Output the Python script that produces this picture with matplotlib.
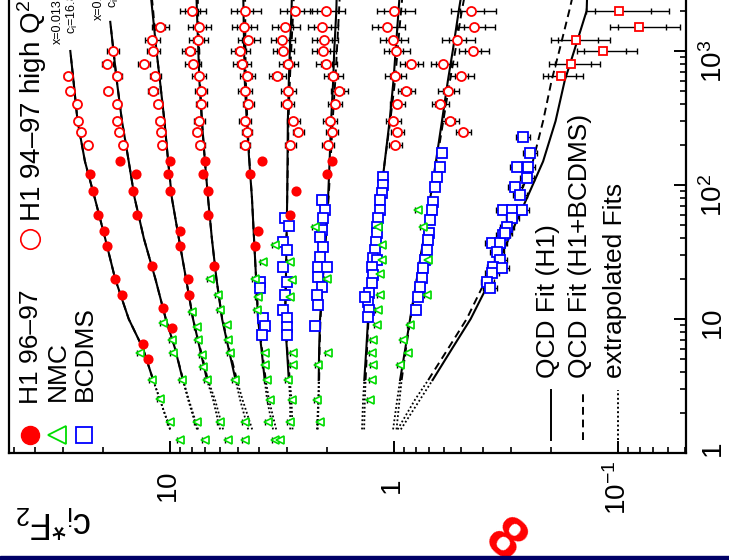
import numpy as np
import matplotlib
matplotlib.use('Agg')
import matplotlib.pyplot as plt
from matplotlib.patches import Rectangle
from matplotlib.ticker import LogLocator, NullFormatter

plt.rcParams['font.family'] = ['Liberation Sans', 'DejaVu Sans']
plt.rcParams['mathtext.fontset'] = 'custom'
plt.rcParams['mathtext.rm'] = 'Liberation Sans'
plt.rcParams['mathtext.it'] = 'Liberation Sans:italic'

# ---------------- data (F2*c_i versus Q2, one list per x bin) ----------------
x_bins = ['0.013', '0.020', '0.032', '0.050', '0.080', '0.130', '0.180', '0.250', '0.400', '0.650']

grid = [1.5, 2.5, 3.5, 6, 10, 20, 40, 80, 150, 300, 600, 1000, 2000, 3000]
fit_q2 = [grid[:12], grid[:12] + [1650]] + [grid] * 8

# QCD fit (H1)
fit_h1 = [
    [10.0, 11.1, 11.9, 13.2, 15.3, 17.6, 19.5, 21.7, 24.0, 25.9, 27.0, 27.9],
    [7.58, 8.31, 8.77, 9.50, 10.45, 11.64, 13.1, 14.4, 15.3, 16.4, 17.3, 17.9, 18.5],
    [5.98, 6.43, 6.84, 7.36, 7.90, 8.49, 9.14, 9.82, 10.2, 10.6, 11.1, 11.5, 12.0, 12.3],
    [4.48, 4.87, 5.10, 5.48, 5.86, 6.21, 6.51, 6.77, 6.99, 7.22, 7.40, 7.48, 7.59, 7.65],
    [3.47, 3.69, 3.78, 3.91, 4.05, 4.13, 4.22, 4.31, 4.43, 4.55, 4.64, 4.67, 4.70, 4.72],
    [2.91, 2.91, 2.95, 3.01, 3.07, 3.04, 3.02, 3.00, 2.99, 2.98, 2.95, 2.92, 2.87, 2.85],
    [2.21, 2.18, 2.17, 2.16, 2.14, 2.08, 2.02, 1.97, 1.94, 1.91, 1.87, 1.85, 1.81, 1.80],
    [1.39, 1.375, 1.358, 1.33, 1.306, 1.25, 1.20, 1.15, 1.10, 1.047, 1.006, 0.984, 0.955, 0.938],
    [1.01, 0.968, 0.940, 0.891, 0.848, 0.791, 0.737, 0.689, 0.650, 0.611, 0.575, 0.547, 0.514, 0.494],
    [0.933, 0.766, 0.673, 0.551, 0.455, 0.369, 0.307, 0.255, 0.216, 0.190, 0.173, 0.157, 0.138, 0.137],
]
# QCD fit (H1+BCDMS)
fit_hb = [
    [10.0, 11.1, 11.9, 13.2, 15.3, 17.6, 19.5, 21.7, 24.0, 25.9, 27.0, 27.9],
    [7.50, 8.25, 8.74, 9.50, 10.45, 11.64, 13.1, 14.4, 15.3, 16.4, 17.3, 17.9, 18.5],
    [5.80, 6.30, 6.78, 7.33, 7.90, 8.49, 9.14, 9.82, 10.2, 10.6, 11.1, 11.5, 11.9, 12.2],
    [4.30, 4.75, 5.03, 5.45, 5.85, 6.21, 6.51, 6.77, 6.99, 7.20, 7.36, 7.42, 7.50, 7.55],
    [3.36, 3.62, 3.74, 3.89, 4.04, 4.13, 4.22, 4.31, 4.42, 4.52, 4.59, 4.61, 4.62, 4.63],
    [2.84, 2.87, 2.92, 3.00, 3.06, 3.04, 3.02, 3.00, 2.98, 2.96, 2.92, 2.88, 2.82, 2.79],
    [2.19, 2.17, 2.16, 2.15, 2.13, 2.08, 2.02, 1.96, 1.92, 1.88, 1.83, 1.80, 1.76, 1.74],
    [1.36, 1.35, 1.34, 1.32, 1.30, 1.25, 1.20, 1.15, 1.10, 1.04, 0.99, 0.965, 0.93, 0.91],
    [0.975, 0.945, 0.925, 0.885, 0.845, 0.790, 0.735, 0.685, 0.645, 0.603, 0.563, 0.533, 0.498, 0.476],
    [0.964, 0.806, 0.704, 0.574, 0.474, 0.387, 0.326, 0.277, 0.240, 0.216, 0.198, 0.183, 0.165, 0.156],
]

# H1 96-97
h1lo_q2 = [
    [5, 6.5, 15, 20, 35, 45, 60, 90, 120],
    [8.5, 12, 25, 60, 90, 120, 150],
    [15, 20, 35, 45, 90, 120, 150],
    [25, 60, 90, 120, 150],
    [35, 45, 120, 150],
    [60, 90],
    [120, 150],
]
h1lo_f = [
    [12.54, 13.2, 16.38, 17.6, 19.1, 19.7, 20.96, 22.07, 22.76],
    [9.80, 10.75, 12.03, 14.04, 14.63, 14.18, 16.72],
    [8.23, 8.31, 9.02, 9.02, 10.0, 10.21, 10.0],
    [6.36, 6.77, 6.77, 7.12, 6.98],
    [4.17, 4.05, 4.39, 3.88],
    [2.91, 2.74],
    [1.99, 1.89],
]

# H1 94-97 high Q2
hq_bins = [200, 250, 300, 400, 500, 650, 800, 1000, 1200, 1500, 2000]
hq_relerr = [0.05, 0.05, 0.06, 0.06, 0.07, 0.08, 0.09, 0.10, 0.11, 0.13, 0.15]
hq_scale = [0.5, 0.6, 0.7, 0.9, 1.0, 1.1, 1.2, 1.3, 1.5]
hq_f = [
    [23.2, 24.97, 25.7, 26.0, 27.95, 28.5],
    [16.2, 16.9, 17.25, 17.25, 18.9, 17.25, 19.1, 18.0],
    [10.86, 10.97, 11.08, 11.31, 11.91, 11.67, 13.06, 11.91, 12.03, 11.08],
    [7.35, 7.58, 7.42, 7.27, 7.27, 7.42, 7.90, 8.14, 7.50, 7.42, 7.98],
    [4.63, 4.55, 4.63, 4.48, 4.63, 4.52, 4.79, 4.87, 4.48, 4.70, 4.63],
    [2.91, 2.68, 2.82, 3.00, 2.97, 3.33, 2.97, 3.13, 3.16, 3.06, 2.77],
    [1.97, 1.89, 1.93, 1.84, 1.76, 1.87, 2.01, 2.07, 2.05, 2.10, 2.01],
    [0.99, 0.97, 1.01, 0.97, 0.884, 0.99, 0.839, 0.98, 1.01, 1.075, 1.00],
    [None, 0.492, 0.562, 0.623, 0.574, 0.502, 0.604, 0.444, 0.523, 0.439, 0.453],
]
hq10_q2 = [650, 800, 1000, 1200, 1500, 2000]
hq10_f = [0.180, 0.162, 0.117, 0.154, 0.0806, 0.099]
hq10_err = [0.037, 0.042, 0.035, 0.045, 0.028, 0.040]

# NMC
nmc_q2 = [
    [1.25, 1.7, 2.55, 3.5, 5.6],
    [1.25, 1.7, 3.5, 5.6, 7.0, 9.3],
    [1.25, 1.7, 3.5, 4.4, 5.4, 7.0, 8.7, 11.3],
    [1.25, 1.7, 3.5, 5.6, 7.0, 9.0, 11.7, 15, 20],
    [1.25, 1.7, 2.5, 3.5, 4.5, 5.6, 11.7, 14.6, 20, 26.5],
    [1.25, 1.7, 2.5, 3.5, 4.5, 5.6, 14.6, 19.5, 26.5, 35.7],
    [1.7, 2.5, 4.5, 5.6, 20, 48.7],
    [2.5, 3.5, 4.5, 5.6, 7.0, 9.0, 11.7, 15, 21.8, 27.6, 35.7, 48.7],
    [4.5, 5.6, 7.0, 9.0, 15, 27.6, 48.7, 65],
]
nmc_f = [
    [9.02, 10.0, 11.08, 12.03, 13.61],
    [6.98, 7.58, 8.84, 9.70, 9.80, 10.75],
    [5.51, 5.98, 6.84, 7.12, 7.20, 7.50, 7.58, 7.98],
    [4.63, 4.63, 5.13, 5.40, 5.51, 5.57, 5.98, 6.10, 6.63],
    [3.40, 3.65, 3.58, 3.69, 3.77, 3.77, 4.09, 4.05, 4.17, 3.84],
    [3.23, 2.91, 2.85, 2.97, 2.82, 2.82, 2.91, 2.85, 2.91, 3.40],
    [2.14, 2.21, 2.18, 1.97, 1.99, 2.25],
    [1.28, 1.254, 1.24, 1.254, 1.24, 1.19, 1.18, 1.155, 1.155, 1.13, 1.13, 1.18],
    [0.940, 0.866, 0.912, 0.849, 0.713, 0.706, 0.742, 0.782],
]

# BCDMS (bins 0.080 .. 0.650)
bcd_q2 = [
    [18.9, 17.0, 10.2, 8.87, 7.60],
    [56.7, 49.4, 37.6, 32.7, 24.4, 18.9, 15.1, 11.7, 10.2, 8.72, 7.60],
    [77.3, 65, 56.7, 46.2, 40.8, 34.3, 29.0, 24.4, 24.4, 20.6, 17.3, 15.1, 12.7, 8.87],
    [115, 100, 87.1, 77.3, 65, 56.7, 48.7, 43.8, 37.6, 32.7, 28.5, 27.6, 24.4, 21.3,
     18.6, 15.7, 13.4, 11.7, 14.6, 10.3],
    [173, 136, 115, 96.7, 74.7, 65, 54.8, 43.8, 38.9, 32.7, 27.6, 24, 20.2, 17.3, 14.6, 11.7],
    [228, 173, 136, 136, 113, 96.7, 84.2, 65, 65, 65, 56.7, 48.7, 42.2, 36.7, 36.7, 31.4,
     27.6, 24.4, 22.0, 18.9, 17.0, 24.0, 43.8],
]
bcd_f = [
    [3.97, 3.97, 3.85, 3.77, 3.88],
    [3.07, 2.94, 3.13, 3.00, 3.13, 3.00, 3.07, 3.13, 3.00, 3.00, 3.00],
    [2.10, 2.03, 2.07, 2.10, 2.14, 2.07, 2.14, 2.18, 1.99, 2.18, 2.10, 2.21, 2.18, 2.25],
    [1.12, 1.12, 1.13, 1.155, 1.155, 1.18, 1.19, 1.19, 1.20, 1.215, 1.24, 1.19, 1.254, 1.24,
     1.254, 1.29, 1.31, 1.29, 1.35, 1.31],
    [0.611, 0.623, 0.643, 0.656, 0.670, 0.677, 0.691, 0.698, 0.706, 0.713, 0.727, 0.742,
     0.750, 0.766, 0.782, 0.798],
    [0.2655, 0.247, 0.2825, 0.252, 0.255, 0.2885, 0.274, 0.326, 0.297, 0.268, 0.297, 0.313,
     0.326, 0.365, 0.336, 0.347, 0.336, 0.361, 0.365, 0.384, 0.373, 0.330, 0.320],
]
bcd_relerr = [0.03, 0.03, 0.03, 0.035, 0.04, 0.07]

RED, GREEN, BLUE = '#ff0000', '#00dd00', '#0000ff'

# ---------------- figure, drawn turned by 90 degrees ----------------
W, H = 729, 560
X0, X1, YB = 9, 686, 453
YT = YB - 134 * 4
fig = plt.figure(figsize=(W / 100, H / 100), dpi=100)
ax = fig.add_axes([X0 / W, (H - YB) / H, (X1 - X0) / W, (YB - YT) / H])
ax.set_xscale('log')
ax.set_yscale('log')
ax.set_xlim(52.4, 0.0497)
ax.set_ylim(1, 1e4)


def px(x, y):
    # pixel position in the picture -> axes fraction
    return (x - X0) / (X1 - X0), (YB - y) / (YB - YT)


# fits: dotted below Q2 = 3.5 (extrapolated)
for q, fh, fb in zip(fit_q2, fit_h1, fit_hb):
    ax.plot(fb[:3], q[:3], color='k', lw=1.3, ls=(0, (1, 1.3)), zorder=2)
    ax.plot(fh[:3], q[:3], color='k', lw=1.3, ls=(0, (1, 1.3)), zorder=2)
    ax.plot(fb[2:], q[2:], color='k', lw=1.4, ls=(0, (4, 2.5)), zorder=2)
    ax.plot(fh[2:], q[2:], color='k', lw=1.5, ls='-', zorder=2)


def points(f, q, err, marker, color, ms, filled, mew=1.3):
    f = np.array(f, dtype=float)
    q = np.array(q, dtype=float)
    ax.errorbar(f, q, xerr=np.asarray(err) * 1.0, fmt='none', ecolor='k',
                elinewidth=1.0, capsize=2.5, capthick=1.0, zorder=3)
    ax.plot(f, q, ls='none', marker=marker, ms=ms, mew=mew, mec=color,
            mfc=color if filled else 'white', zorder=4)


for q, f, r in zip(bcd_q2, bcd_f, bcd_relerr):
    points(f, q, r * np.array(f), 's', BLUE, 6.5, False)

for q, f in zip(nmc_q2, nmc_f):
    points(f, q, 0.03 * np.array(f), '<', GREEN, 6.0, False, 1.2)

for q, f in zip(h1lo_q2, h1lo_f):
    points(f, q, 0.025 * np.array(f), 'o', RED, 6.0, True)

for i, f in enumerate(hq_f):
    pairs = [(b, v, e) for b, v, e in zip(hq_bins, f, hq_relerr) if v is not None]
    qq = [p[0] for p in pairs]
    ff = np.array([p[1] for p in pairs])
    ee = np.array([p[2] for p in pairs]) * hq_scale[i] * ff
    ax.errorbar(ff, qq, xerr=0.55 * ee, fmt='none', ecolor='k', elinewidth=0,
                capsize=2.5, capthick=1.0, zorder=3)
    points(ff, qq, ee, 'o', RED, 6.5, False)

e10 = np.array(hq10_err)
ax.errorbar(hq10_f, hq10_q2, xerr=0.7 * e10, fmt='none', ecolor='k', elinewidth=0,
            capsize=2.5, capthick=1.0, zorder=3)
points(hq10_f, hq10_q2, e10, 's', RED, 5.5, False)

# ---------------- axes styling ----------------
for s in ax.spines.values():
    s.set_linewidth(1.6)

ax.set_xticks([0.1, 1, 10], [r'$\mathregular{10^{-1}}$', r'$\mathregular{1}$',
                             r'$\mathregular{10}$'])
ax.xaxis.set_minor_locator(LogLocator(base=10, subs=np.arange(2, 10)))
ax.xaxis.set_minor_formatter(NullFormatter())
ax.tick_params(axis='x', which='major', direction='in', length=9, width=1.4,
               pad=25, labelsize=20, labelrotation=90, top=False)
ax.tick_params(axis='x', which='minor', direction='in', length=4.5, width=1.2, top=False)
for t in ax.xaxis.get_major_ticks():
    t.label1.set_va('center')

ax.set_yticks([1, 10, 100, 1000], [r'$\mathregular{1}$', r'$\mathregular{10}$',
                                   r'$\mathregular{10^{2}}$', r'$\mathregular{10^{3}}$'])
ax.yaxis.set_minor_locator(LogLocator(base=10, subs=np.arange(2, 10)))
ax.yaxis.set_minor_formatter(NullFormatter())
ax.tick_params(axis='y', which='both', direction='in', left=False, right=True,
               labelleft=False, labelright=True)
ax.tick_params(axis='y', which='major', length=9, width=1.4, pad=30, labelsize=20,
               labelrotation=90)
ax.tick_params(axis='y', which='minor', length=4.5, width=1.2)
for t in ax.yaxis.get_major_ticks():
    t.label2.set_ha('right')

# ---------------- legends and labels ----------------
tk = dict(transform=ax.transAxes, rotation=90, ha='center', va='bottom', fontsize=19)
ax.plot(*px(30, 435), 'o', ms=13, color=RED, transform=ax.transAxes, clip_on=False)
ax.plot(*px(57, 435), '<', ms=13, mfc='none', mec=GREEN, mew=1.3, transform=ax.transAxes)
ax.plot(*px(84, 435), 's', ms=12, mfc='none', mec=BLUE, mew=1.3, transform=ax.transAxes)
ax.text(*px(31, 404), 'H1 96–97', **tk)
ax.text(*px(58, 401), 'NMC', **tk)
ax.text(*px(85, 401), 'BCDMS', **tk)
ax.plot(*px(30, 239), 'o', ms=14, mfc='none', mec=RED, mew=1.2, transform=ax.transAxes)
ax.text(*px(32, 222), r'H1 94–97 high Q$\mathregular{^2}$', **dict(tk, fontsize=20))

samples = [(551, '-', 'QCD Fit (H1)'), (583, (0, (4, 2.5)), 'QCD Fit (H1+BCDMS)'),
           (618, (0, (1, 1.3)), 'extrapolated Fits')]
for xs, ls, lab in samples:
    xa, ya = px(xs, 440)
    _, yb = px(xs, 390)
    ax.plot([xa, xa], [ya, yb], color='k', lw=1.4, ls=ls, transform=ax.transAxes)
    ax.text(*px(xs - 3, 378), lab, **tk)

small = dict(transform=ax.transAxes, rotation=90, ha='center', va='bottom', fontsize=9)
ax.text(*px(58, 44), 'x=0.013', **small)
ax.text(*px(72, 34), r'c$\mathregular{_i}$=16.8', **small)
ax.text(*px(99, 20), 'x=0.020', **small)
ax.text(*px(113, 8), r'c$\mathregular{_i}$=15.0', **small)

fig.text(54 / W, 1 - 522 / H, r'c$\mathregular{_i}$*F$\mathregular{_2}$', rotation=180,
         fontsize=26, ha='center', va='center')

fig.text(503 / W, 1 - 542 / H, '8', color=RED, fontsize=42, fontweight='bold',
         rotation=-40, ha='center', va='center', zorder=5)
fig.add_artist(Rectangle((0, 0), 1, 4 / H, transform=fig.transFigure,
                         color='#000066', zorder=10))

fig.savefig('out.png', dpi=100)
